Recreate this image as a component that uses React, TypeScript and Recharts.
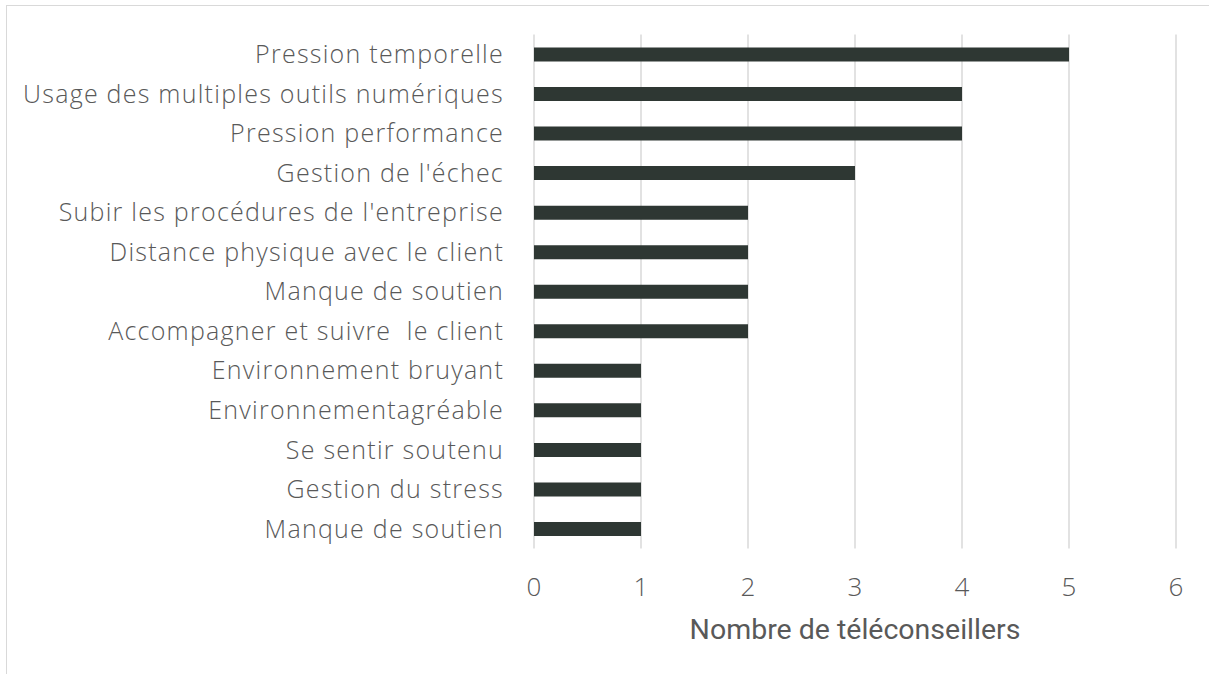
import { BarChart, Bar, XAxis, YAxis, CartesianGrid } from 'recharts';

const CATEGORIES = [
  'Pression temporelle',
  'Usage des multiples outils numériques',
  'Pression performance',
  "Gestion de l'échec",
  "Subir les procédures de l'entreprise",
  'Distance physique avec le client',
  'Manque de soutien',
  'Accompagner et suivre  le client',
  'Environnement bruyant',
  'Environnementagréable',
  'Se sentir soutenu',
  'Gestion du stress',
  'Manque de soutien',
];

const COUNTS = [5, 4, 4, 3, 2, 2, 2, 2, 1, 1, 1, 1, 1];

const X_TICKS = [0, 1, 2, 3, 4, 5, 6];

const data = CATEGORIES.map((name, i) => ({ idx: i, name, count: COUNTS[i] }));

const FONT = 'Roboto, "Noto Sans", sans-serif';
const LABEL_FONT = '"Open Sans", Roboto, sans-serif';

// keep the double space of the source label visible in SVG
const fmtLabel = (v: number) => (CATEGORIES[v] ?? '').replace(/  /g, ' \u00a0');

export default function App() {
  return (
    <div
      style={{
        position: 'absolute',
        left: 0,
        top: 0,
        width: 1209,
        height: 674,
        overflow: 'hidden',
        background: '#fff',
        fontFamily: FONT,
      }}
    >
      <div
        style={{
          position: 'absolute',
          left: 6,
          top: 5,
          width: 1240,
          height: 700,
          border: '1.5px solid #d9d9d9',
        }}
      />
      <div style={{ position: 'absolute', left: 0, top: 0 }}>
        <BarChart
          width={1209}
          height={674}
          data={data}
          layout="vertical"
          margin={{ top: 34.5, right: 33, bottom: 65.5, left: 0 }}
          barSize={14}
        >
          <CartesianGrid horizontal={false} stroke="#d9d9d9" strokeWidth={1.5} />
          <XAxis
            type="number"
            domain={[0, 6]}
            ticks={X_TICKS}
            axisLine={false}
            tickLine={false}
            height={60}
            tickMargin={23}
            tick={{ fill: '#595959', fontSize: 26, fontWeight: 300, fontFamily: LABEL_FONT }}
            label={{
              value: 'Nombre de téléconseillers',
              position: 'bottom',
              offset: 10,
              fill: '#595959',
              fontSize: 28.5,
              fontFamily: FONT,
            }}
          />
          <YAxis
            type="category"
            dataKey="idx"
            width={534}
            axisLine={false}
            tickLine={false}
            tickMargin={24}
            interval={0}
            tickFormatter={fmtLabel}
            tick={{
              fill: '#595959',
              fontSize: 25,
              fontWeight: 300,
              fontFamily: LABEL_FONT,
              letterSpacing: 1.25,
            }}
          />
          <Bar dataKey="count" fill="#2e3733" isAnimationActive={false} />
        </BarChart>
      </div>
    </div>
  );
}
